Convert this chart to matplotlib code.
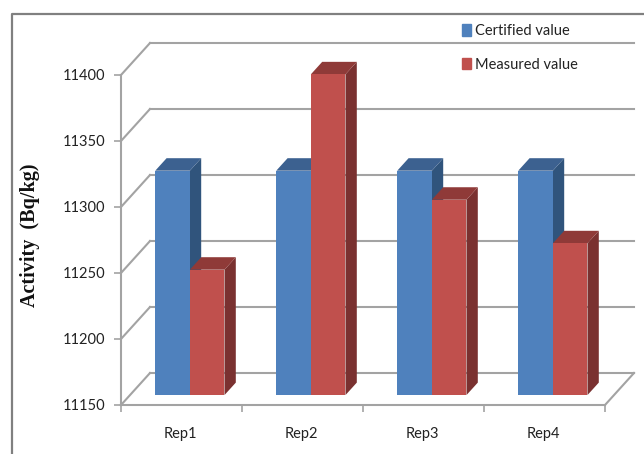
import matplotlib
matplotlib.use("Agg")
import matplotlib.pyplot as plt
from matplotlib.lines import Line2D
from matplotlib.patches import Patch

# values
reps = ["Rep1", "Rep2", "Rep3", "Rep4"]
certified = [11320, 11320, 11320, 11320]
measured = [11245, 11393, 11298, 11265]
yticks = [11150, 11200, 11250, 11300, 11350, 11400]

W, H = 644, 454
BLUE = ("#4f81bd", "#3c6190", "#30547c")
RED = ("#c0504d", "#8f3a38", "#7a3130")
GRID = "#a3a3a3"
FRAME = "#808080"

# 3d look: depth 1 is the back wall, in data units
DX = 29 / 121
DY = 32 / 1.32
BAR_FRONT = 0.31
BAR_BACK = 0.70
BAR_W = 0.286

plt.rcParams["font.family"] = ["Lato", "Liberation Sans"]

fig = plt.figure(figsize=(W / 100, H / 100), dpi=100)
ax = fig.add_axes([121 / W, 1 - 405 / H, 484 / W, 330 / H])
ax.set_xlim(0, 4)
ax.set_ylim(11150, 11400)
ax.patch.set_visible(False)


def proj(x, y, d):
    return x + d * DX, y + d * DY


def box(left, value, colors):
    base = yticks[0]
    right = left + BAR_W
    dx0, dy0 = BAR_FRONT * DX, BAR_FRONT * DY
    dx1, dy1 = BAR_BACK * DX, BAR_BACK * DY
    # side
    ax.fill([right + dx0, right + dx1, right + dx1, right + dx0],
            [base + dy0, base + dy1, value + dy1, value + dy0],
            color=colors[2], lw=0, zorder=3, clip_on=False)
    # top
    ax.fill([left + dx0, left + dx1, right + dx1, right + dx0],
            [value + dy0, value + dy1, value + dy1, value + dy0],
            color=colors[1], lw=0, zorder=3, clip_on=False)
    # front
    ax.bar(left + dx0, value - base, BAR_W, bottom=base + dy0, align="edge",
           color=colors[0], lw=0, zorder=3, clip_on=False)


# back wall and side wall lines
for t in yticks:
    bx, by = proj(0, t, 1)
    ex, ey = proj(4, t, 1)
    ax.plot([0, bx], [t, by], color=GRID, lw=1.5, zorder=1, clip_on=False)
    ax.plot([bx, ex], [by, ey], color=GRID, lw=1.5, zorder=1, clip_on=False)
# floor right edge
ex, ey = proj(4, yticks[0], 1)
ax.plot([4, ex], [yticks[0], ey], color=GRID, lw=1.5, zorder=1, clip_on=False)

for i in range(len(reps)):
    left = i + 0.495 - BAR_W
    box(left, certified[i], BLUE)
    box(left + BAR_W, measured[i], RED)

ax.set_xticks(range(5))
ax.set_xticklabels([])
ax.set_xticks([i + 0.49 for i in range(4)], labels=reps, minor=True)
ax.tick_params(axis="x", which="minor", length=0, pad=16, labelsize=10.5, labelcolor="#222222")
ax.tick_params(axis="x", which="major", length=5, width=1.2, color=GRID)
ax.set_yticks(yticks)
ax.tick_params(axis="y", length=5, width=1.2, color=GRID, pad=6, labelsize=10.5, labelcolor="#222222")
for s in ("top", "right"):
    ax.spines[s].set_visible(False)
for s in ("left", "bottom"):
    ax.spines[s].set_color(GRID)
    ax.spines[s].set_linewidth(1.5)

fig.text(30 / W, 1 - 235 / H, "Activity  (Bq/kg)", rotation=90, ha="center", va="center",
         family="Liberation Serif", fontweight="bold", fontsize=14.5, color="#111111")

handles = [Patch(color=BLUE[0]), Patch(color=RED[0])]
fig.legend(handles, ["Certified value", "Measured value"], loc="upper left",
           bbox_to_anchor=(462 / W, 1 - 24 / H), bbox_transform=fig.transFigure,
           frameon=False, fontsize=10.5, labelcolor="#222222", handlelength=0.62, handleheight=0.85,
           handletextpad=0.28, labelspacing=1.35, borderpad=0, borderaxespad=0)

# outer chart frame, cut off by the image edge
fig.add_artist(Line2D([12 / W, 12 / W, 1], [0, 1 - 14 / H, 1 - 14 / H], color=FRAME, lw=1.6))

fig.savefig("out.png", dpi=100)
